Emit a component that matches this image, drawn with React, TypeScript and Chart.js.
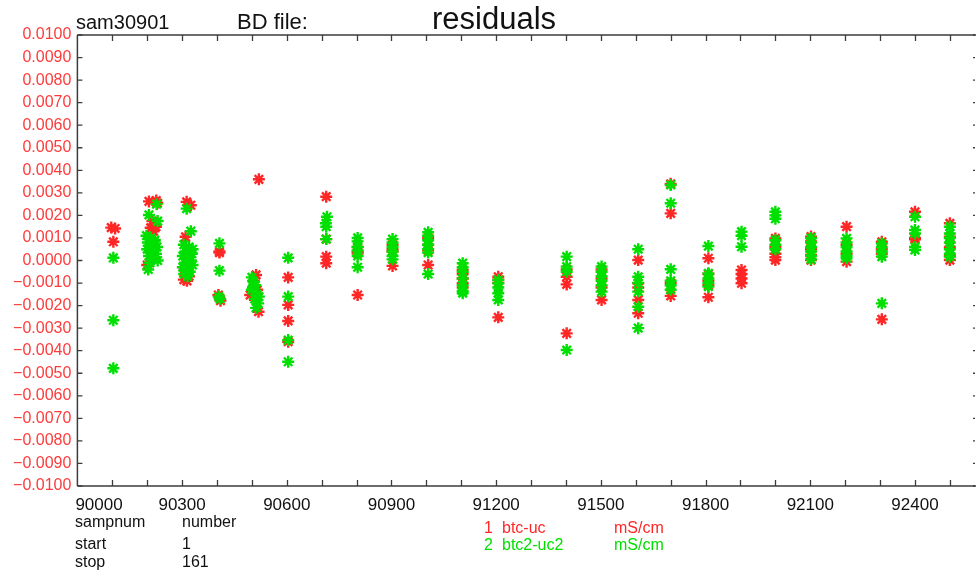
import { useEffect, useRef } from "react";
import { Chart, registerables } from "chart.js";

Chart.register(...registerables);

// ---- data (sample number, residual in mS/cm) ----
const redSampnum = [
  90097, 90108, 90103,
  90205, 90226, 90229, 90215, 90222, 90210, 90218, 90225, 90200, 90206,
  90313, 90325, 90310, 90305, 90314, 90320, 90307,
  90407, 90407, 90404, 90410,
  90520, 90512, 90495, 90519, 90505, 90515,
  90604, 90604, 90604, 90604,
  90713, 90713, 90713, 90713,
  90803, 90803, 90803, 90803,
  90903, 90903, 90903, 90903,
  91005, 91005, 91005, 91005,
  91104, 91104, 91104, 91104, 91104,
  91206, 91206, 91206, 91206,
  91402, 91402, 91402, 91402,
  91502, 91502, 91502, 91502,
  91607, 91607, 91607, 91607, 91607,
  91700, 91700, 91700, 91700,
  91808, 91808, 91808, 91808, 91808,
  91903, 91903, 91903, 91903,
  92000, 92000, 92000, 92000, 92000,
  92102, 92102, 92102, 92102, 92102,
  92204, 92204, 92204, 92204,
  92305, 92305, 92305, 92305,
  92400, 92400, 92400,
  92500, 92500, 92500, 92500, 92500,
];
const redResidual = [
  0.00146, 0.00142, 0.00083,
  0.00262, 0.00266, 0.00255, 0.00175, 0.0016, 0.00145, 0.0013, 0.0015, -0.0002, -0.0001,
  0.0026, 0.00245, 0.00105, -0.00085, -0.0009, -0.0007, -0.0004,
  0.00035, 0.0004, -0.00153, -0.00178,
  0.0036, -0.00064, -0.00153, -0.00227, -0.0009, -0.0013,
  -0.00075, -0.00197, -0.00268, -0.0036,
  0.00283, 0.00095, 0.00017, -0.00012,
  0.0006, 0.0004, 0.00032, -0.00153,
  0.0007, 0.0005, 0.0004, -0.00024,
  0.001, 0.0007, 0.00045, -0.0002,
  -0.00042, -0.0006, -0.0008, -0.00101, -0.0012,
  -0.00072, -0.00085, -0.001, -0.00252,
  -0.0004, -0.00072, -0.00106, -0.00323,
  -0.0004, -0.0008, -0.0012, -0.00175,
  0.00002, -0.00101, -0.00175, -0.00234, -0.0012,
  0.0034, 0.00209, -0.001, -0.00157,
  0.0001, -0.0006, -0.0009, -0.0011, -0.00163,
  -0.00042, -0.0006, -0.0008, -0.00101,
  0.00098, 0.0006, 0.0003, 0.00015, 0.00002,
  0.00106, 0.00085, 0.0005, 0.00025, 0.00002,
  0.0015, 0.0007, 0.0003, -0.00005,
  0.00083, 0.0005, 0.0003, -0.00261,
  0.00216, 0.001, 0.00094,
  0.00165, 0.00105, 0.0006, 0.0002, 0.00002,
];
const greenSampnum = [
  90103, 90103, 90103,
  90227, 90205, 90230, 90198, 90210, 90222, 90202, 90215, 90228, 90200, 90212, 90225, 90205, 90218, 90230, 90208, 90220, 90203,
  90313, 90325, 90305, 90320, 90310, 90328, 90302, 90315, 90325, 90308, 90318, 90302, 90312, 90322, 90306, 90316, 90330, 90330,
  90407, 90407, 90405, 90409,
  90500, 90505, 90510, 90500, 90515, 90508, 90518, 90512, 90503, 90520,
  90604, 90604, 90604, 90604,
  90715, 90712, 90713, 90713,
  90803, 90803, 90803, 90803, 90803, 90803,
  90903, 90903, 90903, 90903, 90903, 90903,
  91005, 91005, 91005, 91005, 91005, 91005, 91005,
  91104, 91104, 91104, 91104, 91104, 91104, 91104,
  91206, 91206, 91206, 91206, 91206,
  91402, 91402, 91402, 91402,
  91502, 91502, 91502, 91502, 91502, 91502,
  91607, 91607, 91607, 91607, 91607, 91607,
  91700, 91700, 91700, 91700, 91700, 91700,
  91808, 91808, 91808, 91808, 91808,
  91903, 91903, 91903,
  92000, 92000, 92000, 92000, 92000, 92000,
  92102, 92102, 92102, 92102, 92102, 92102,
  92204, 92204, 92204, 92204, 92204, 92204,
  92305, 92305, 92305, 92305, 92305,
  92400, 92400, 92400, 92400, 92400,
  92500, 92500, 92500, 92500, 92500, 92500, 92500,
];
const greenResidual = [
  0.00012, -0.00265, -0.00478,
  0.0025, 0.00202, 0.00175, 0.0011, 0.001, 0.0009, 0.0008, 0.0007, 0.0006, 0.0005, 0.0004, 0.0003, 0.0002, 0.0001, 0.0, -0.0001, 0.00085, -0.0004,
  0.0023, 0.0013, 0.0007, 0.0006, 0.0004, 0.0003, 0.0002, 0.0001, 0.0, -0.0001, -0.0002, -0.0003, -0.0004, -0.0005, -0.0006, -0.0007, 0.0005, -0.0002,
  0.00076, -0.00045, -0.0016, -0.0017,
  -0.00075, -0.00095, -0.0011, -0.0013, -0.0015, -0.0017, -0.0019, -0.0021, -0.0012, -0.0016,
  0.00012, -0.0016, -0.00353, -0.00449,
  0.00194, 0.00165, 0.0015, 0.00095,
  0.001, 0.00085, 0.0006, 0.00045, 0.0002, -0.0003,
  0.00095, 0.0008, 0.0006, 0.0004, 0.0002, 0.00005,
  0.00125, 0.0011, 0.0009, 0.0007, 0.0005, 0.00035, -0.0006,
  -0.00012, -0.0003, -0.0005, -0.0008, -0.0011, -0.00135, -0.00145,
  -0.00086, -0.001, -0.0012, -0.00145, -0.00175,
  0.00017, -0.00027, -0.0005, -0.00397,
  -0.00027, -0.0005, -0.0007, -0.0009, -0.0011, -0.00138,
  0.0005, -0.00072, -0.001, -0.00138, -0.00205, -0.003,
  0.00335, 0.00254, -0.00039, -0.0009, -0.0011, -0.0013,
  0.00064, -0.00057, -0.0008, -0.001, -0.00116,
  0.00128, 0.0011, 0.00061,
  0.00216, 0.002, 0.00185, 0.0009, 0.0007, 0.0005,
  0.001, 0.0008, 0.0006, 0.0004, 0.0002, 0.00005,
  0.00098, 0.0008, 0.0006, 0.0004, 0.0002, 0.0001,
  0.00075, 0.0006, 0.0004, 0.00017, -0.0019,
  0.00194, 0.00135, 0.0012, 0.00047, 0.0006,
  0.0015, 0.0012, 0.001, 0.0008, 0.0005, 0.0003, 0.00017,
];

const xLabelValues = [90000, 90300, 90600, 90900, 91200, 91500, 91800, 92100, 92400];
const xMin = 90000;
const xMax = 92572;
const yMin = -0.01;
const yMax = 0.01;
const yStep = 0.001;
const xStep = 100;

const headerTexts = ["sam30901", "BD file:", "residuals"];
const infoRows = [
  ["sampnum", "number"],
  ["start", "1"],
  ["stop", "161"],
];
const legendRows = [
  ["1", "btc-uc", "mS/cm"],
  ["2", "btc2-uc2", "mS/cm"],
];

const RED = "#ff2626";
const GREEN = "#00e000";
const FONT = "'Liberation Sans', Arial, sans-serif";

const framePlugin = {
  id: "frame",
  beforeDatasetsDraw(chart: any) {
    const { ctx, chartArea, scales } = chart;
    const { left, right, top, bottom } = chartArea;
    const x = scales.x;
    const y = scales.y;
    ctx.save();
    ctx.strokeStyle = "#3c3c3c";
    ctx.lineWidth = 1.5;
    ctx.beginPath();
    ctx.moveTo(left, top);
    ctx.lineTo(chart.width, top);
    ctx.moveTo(left, bottom);
    ctx.lineTo(chart.width, bottom);
    ctx.moveTo(left, top);
    ctx.lineTo(left, bottom);
    ctx.stroke();
    ctx.lineWidth = 1.3;
    ctx.beginPath();
    for (let v = xMin + xStep; v <= x.max; v += xStep) {
      const px = Math.round(x.getPixelForValue(v)) + 0.5;
      ctx.moveTo(px, top);
      ctx.lineTo(px, top + 6);
      ctx.moveTo(px, bottom);
      ctx.lineTo(px, bottom - 6);
    }
    y.ticks.forEach((_t: any, i: number) => {
      const py = y.getPixelForTick(i);
      ctx.moveTo(left, py);
      ctx.lineTo(left + 5, py);
      ctx.moveTo(right, py);
      ctx.lineTo(right - 2, py);
    });
    ctx.stroke();
    ctx.restore();
  },
  afterDraw(chart: any) {
    const { ctx, chartArea, scales } = chart;
    const x = scales.x;
    ctx.save();
    ctx.fillStyle = "#111";
    ctx.textBaseline = "middle";
    ctx.font = `17px ${FONT}`;
    xLabelValues.forEach((v, i) => {
      const px = x.getPixelForValue(v);
      if (i === 0) {
        ctx.textAlign = "left";
        ctx.fillText(String(v), chartArea.left - 2, 505);
      } else {
        ctx.textAlign = "center";
        ctx.fillText(String(v), px, 505);
      }
    });
    // header
    ctx.textAlign = "left";
    ctx.textBaseline = "alphabetic";
    ctx.font = `20px ${FONT}`;
    ctx.fillText(headerTexts[0], 76, 29);
    ctx.font = `22px ${FONT}`;
    ctx.fillText(headerTexts[1], 237, 29);
    ctx.font = `31px ${FONT}`;
    ctx.fillText(headerTexts[2], 432, 29);
    // info
    ctx.textBaseline = "middle";
    ctx.font = `16px ${FONT}`;
    const rowsY = [523, 545, 563];
    infoRows.forEach((r, i) => {
      ctx.fillText(r[0], 75, rowsY[i]);
      ctx.fillText(r[1], 182, rowsY[i]);
    });
    const legY = [529, 546];
    legendRows.forEach((r, i) => {
      ctx.fillStyle = i === 0 ? RED : GREEN;
      ctx.fillText(r[0], 484, legY[i]);
      ctx.fillText(r[1], 502, legY[i]);
      ctx.fillText(r[2], 614, legY[i]);
    });
    ctx.restore();
  },
};

export default function App() {
  const ref = useRef<HTMLCanvasElement | null>(null);
  useEffect(() => {
    document.body.style.margin = "0";
    document.body.style.overflow = "hidden";
    const canvas = ref.current!;
    const toPts = (xs: number[], ys: number[]) => xs.map((v, i) => ({ x: v, y: ys[i] }));
    const chart = new Chart(canvas, {
      type: "scatter",
      data: {
        datasets: [
          {
            label: "btc2-uc2",
            data: toPts(greenSampnum, greenResidual),
            pointStyle: "star",
            radius: 6,
            borderWidth: 2.4,
            borderColor: GREEN,
            backgroundColor: GREEN,
            order: 0,
          },
          {
            label: "btc-uc",
            data: toPts(redSampnum, redResidual),
            pointStyle: "star",
            radius: 6,
            borderWidth: 2.4,
            borderColor: RED,
            backgroundColor: RED,
            order: 1,
          },
        ],
      },
      options: {
        animation: false,
        responsive: false,
        maintainAspectRatio: false,
        layout: { autoPadding: false, padding: { top: 35, right: 1, left: 0, bottom: 0 } },
        plugins: {
          legend: { display: false },
          tooltip: { enabled: false },
        },
        scales: {
          x: {
            type: "linear",
            min: xMin,
            max: xMax,
            grid: { display: false, drawTicks: false },
            border: { display: false },
            ticks: { display: false, stepSize: xStep },
            afterFit: (s: any) => {
              s.height = 85;
            },
          },
          y: {
            min: yMin,
            max: yMax,
            grid: { display: false, drawTicks: false },
            border: { display: false },
            ticks: {
              stepSize: yStep,
              padding: 6,
              color: "#ff3a3a",
              font: { family: FONT, size: 16 },
              callback: (v: any) => {
                const n = Number(v);
                const s = Math.abs(n).toFixed(4);
                return n < -1e-9 ? "\u2212" + s : s;
              },
            },
            afterFit: (s: any) => {
              s.width = 77.4;
            },
          },
        },
      },
      plugins: [framePlugin],
    });
    return () => chart.destroy();
  }, []);
  return <canvas ref={ref} width={976} height={571} style={{ display: "block" }} />;
}
